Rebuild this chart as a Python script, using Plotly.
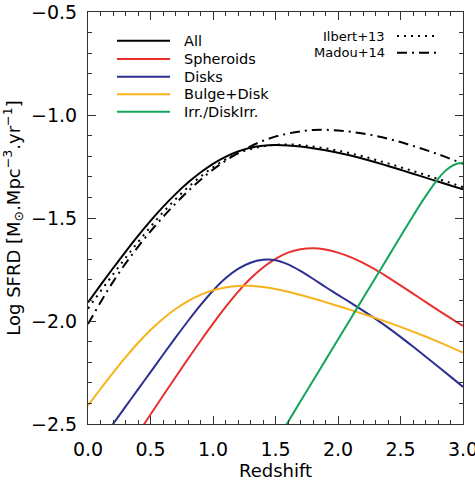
import plotly.graph_objects as go

# ---- data ----
z_all = [0.0, 0.1, 0.2, 0.3, 0.4, 0.5, 0.6, 0.7, 0.8, 0.9, 1.0, 1.1, 1.2, 1.3, 1.4, 1.5,
         1.6, 1.7, 1.8, 1.9, 2.0, 2.1, 2.2, 2.3, 2.4, 2.5, 2.6, 2.7, 2.8, 2.9, 3.0]
sfrd_all = [-1.91, -1.826, -1.744, -1.664, -1.587, -1.514, -1.446, -1.384, -1.328, -1.279,
            -1.237, -1.203, -1.177, -1.159, -1.149, -1.146, -1.148, -1.153, -1.161, -1.171,
            -1.183, -1.197, -1.2125, -1.2295, -1.2475, -1.266, -1.285, -1.304, -1.323,
            -1.342, -1.361]

z_ilbert = [0.0, 0.2, 0.4, 0.6, 0.8, 1.0, 1.2, 1.4, 1.6, 1.8, 2.0, 2.2, 2.4, 2.6, 2.8, 3.0]
sfrd_ilbert = [-1.94, -1.774, -1.617, -1.473, -1.351, -1.254, -1.186, -1.152, -1.143, -1.153,
               -1.173, -1.201, -1.235, -1.272, -1.31, -1.35]

z_madau = [0.0, 0.2, 0.4, 0.6, 0.8, 1.0, 1.2, 1.4, 1.6, 1.8, 2.0, 2.2, 2.4, 2.6, 2.8, 3.0]
sfrd_madau = [-2.015, -1.81, -1.64, -1.495, -1.37, -1.265, -1.185, -1.125, -1.09, -1.073,
              -1.075, -1.09, -1.115, -1.15, -1.19, -1.237]

z_sph = [0.4, 0.5, 0.6, 0.7, 0.8, 0.9, 1.0, 1.1, 1.2, 1.3, 1.4, 1.5, 1.6, 1.7, 1.8, 1.9,
         2.0, 2.1, 2.2, 2.3, 2.4, 2.5, 2.6, 2.7, 2.8, 2.9, 3.0]
sfrd_sph = [-2.546, -2.454, -2.363, -2.273, -2.184, -2.097, -2.013, -1.933, -1.859, -1.794,
            -1.740, -1.698, -1.668, -1.652, -1.647, -1.653, -1.668, -1.69, -1.718, -1.751,
            -1.788, -1.827, -1.867, -1.907, -1.947, -1.986, -2.024]

z_disk = [0.1, 0.2, 0.3, 0.4, 0.5, 0.6, 0.7, 0.8, 0.9, 1.0, 1.1, 1.2, 1.3, 1.4, 1.5, 1.6,
          1.7, 1.8, 1.9, 2.0, 2.1, 2.2, 2.3, 2.4, 2.5, 2.6, 2.7, 2.8, 2.9, 3.0]
sfrd_disk = [-2.584, -2.500, -2.416, -2.332, -2.248, -2.164, -2.081, -2.000, -1.923, -1.853,
             -1.793, -1.747, -1.717, -1.703, -1.705, -1.725, -1.757, -1.795, -1.835, -1.873,
             -1.911, -1.950, -1.990, -2.032, -2.077, -2.124, -2.172, -2.221, -2.270, -2.320]

z_bd = [0.0, 0.1, 0.2, 0.3, 0.4, 0.5, 0.6, 0.7, 0.8, 0.9, 1.0, 1.1, 1.2, 1.3, 1.4, 1.5,
        1.6, 1.7, 1.8, 1.9, 2.0, 2.1, 2.2, 2.3, 2.4, 2.5, 2.6, 2.7, 2.8, 2.9, 3.0]
sfrd_bd = [-2.41, -2.33, -2.252, -2.177, -2.107, -2.044, -1.989, -1.942, -1.903, -1.873,
           -1.851, -1.837, -1.830, -1.829, -1.835, -1.845, -1.858, -1.8735, -1.8905,
           -1.9085, -1.927, -1.946, -1.9655, -1.9855, -2.0065, -2.0285, -2.0515, -2.0755,
           -2.1005, -2.1265, -2.1535]

z_irr = [1.5, 1.6, 1.7, 1.8, 1.9, 2.0, 2.1, 2.2, 2.3, 2.4, 2.5, 2.6, 2.7, 2.8, 2.85, 2.9,
         2.95, 3.0]
sfrd_irr = [-2.59, -2.49, -2.39, -2.29, -2.19, -2.09, -1.99, -1.89, -1.79, -1.69, -1.59,
            -1.49, -1.395, -1.31, -1.276, -1.252, -1.237, -1.232]

legend_labels = ["All", "Spheroids", "Disks", "Bulge+Disk", "Irr./DiskIrr."]
ref_labels = ["Ilbert+13", "Madou+14"]

colors = ["#000000", "#e8302e", "#2c2f8f", "#f7b31b", "#14a55c"]
FONT = "DejaVu Sans"
DOT = "2px,5px"
DASHDOT = "10px,5px,2px,5px"

fig = go.Figure()
series = [(z_all, sfrd_all), (z_sph, sfrd_sph), (z_disk, sfrd_disk), (z_bd, sfrd_bd), (z_irr, sfrd_irr)]
fig.add_trace(go.Scatter(x=z_ilbert, y=sfrd_ilbert, mode="lines", line_shape="spline",
                         name=ref_labels[0],
                         line=dict(color="black", width=2, dash=DOT), showlegend=False))
fig.add_trace(go.Scatter(x=z_madau, y=sfrd_madau, mode="lines", line_shape="spline",
                         name=ref_labels[1],
                         line=dict(color="black", width=2, dash=DASHDOT), showlegend=False))
for (xs, ys), c, name in zip(series, colors, legend_labels):
    fig.add_trace(go.Scatter(x=xs, y=ys, mode="lines", line_shape="spline", name=name,
                             line=dict(color=c, width=2), showlegend=False))

# ---- custom legend (line samples + text) ----
shapes = []
annotations = []
rows_y = [0.9303, 0.8859, 0.8430, 0.8002, 0.7580]
for lab, c, yy in zip(legend_labels, colors, rows_y):
    shapes.append(dict(type="line", xref="paper", yref="paper", x0=0.0773, x1=0.2187,
                       y0=yy, y1=yy, line=dict(color=c, width=2)))
    annotations.append(dict(xref="paper", yref="paper", x=0.2507, y=yy, text=lab,
                            showarrow=False, xanchor="left", yanchor="middle",
                            font=dict(family=FONT, size=14.5, color="black")))
ref_y = [0.9417, 0.9012]
ref_dash = [DOT, DASHDOT]
for lab, yy, d in zip(ref_labels, ref_y, ref_dash):
    shapes.append(dict(type="line", xref="paper", yref="paper", x0=0.824, x1=0.9307,
                       y0=yy, y1=yy, line=dict(color="black", width=2, dash=d)))
    annotations.append(dict(xref="paper", yref="paper", x=0.7965, y=yy, text=lab,
                            showarrow=False, xanchor="right", yanchor="middle",
                            font=dict(family=FONT, size=13, color="black")))

axis_common = dict(showline=True, linecolor="#333333", linewidth=1, mirror="allticks",
                   ticks="inside", ticklen=8, tickwidth=1, tickcolor="#333333",
                   showgrid=False, zeroline=False, ticklabeloverflow="allow",
                   automargin=False,
                   tickfont=dict(family=FONT, size=19, color="black"),
                   minor=dict(ticks="inside", ticklen=4, tickwidth=1, tickcolor="#333333",
                              dtick=0.1, showgrid=False))

fig.update_layout(
    width=475, height=481,
    margin=dict(l=88, r=12, t=12, b=57),
    paper_bgcolor="white", plot_bgcolor="white",
    shapes=shapes, annotations=annotations,
    xaxis=dict(range=[0, 3.0000001], tick0=0, dtick=0.5, tickformat=".1f",
               title=dict(text="Redshift", font=dict(family=FONT, size=18, color="black"),
                          standoff=6),
               ticklabelstandoff=8, **axis_common),
    yaxis=dict(range=[-2.5, -0.5], tick0=-2.5, dtick=0.5, tickformat=".1f",
               title=dict(text="Log SFRD [M<sub>⊙</sub>.Mpc<sup>−3</sup>.yr<sup>−1</sup>]",
                          font=dict(family=FONT, size=18, color="black"), standoff=10),
               ticklabelstandoff=6, **axis_common),
)

fig.write_html("out.html")
